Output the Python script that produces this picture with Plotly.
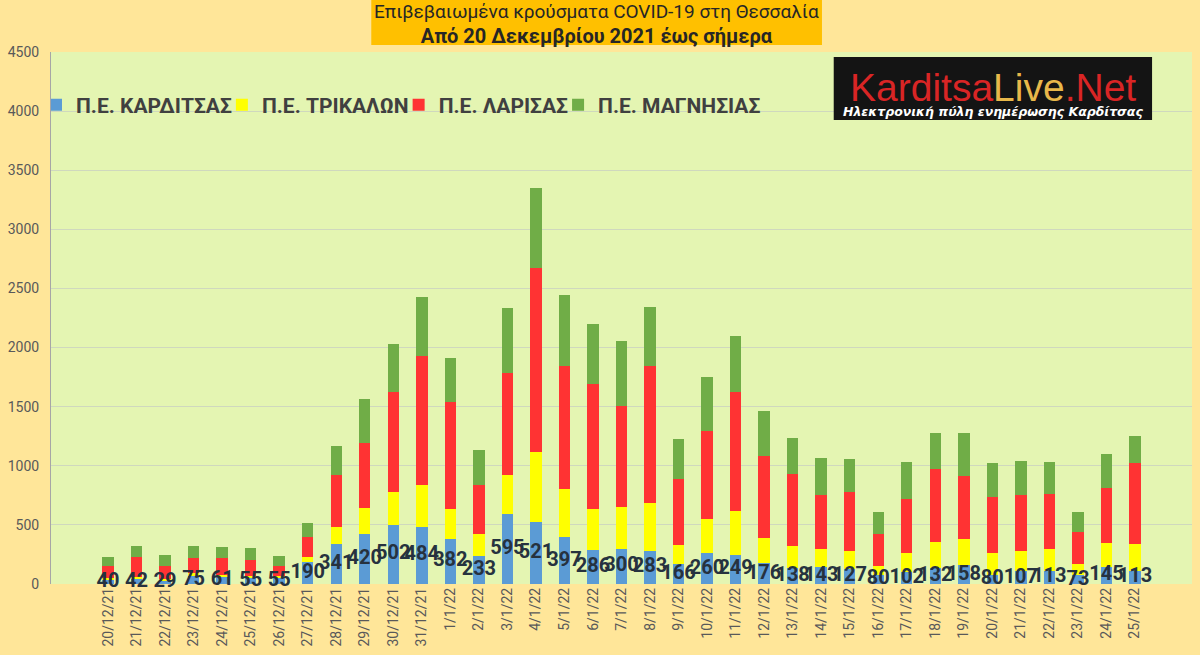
import plotly.graph_objects as go

# dates (x categories)
dates = ["20/12/21", "21/12/21", "22/12/21", "23/12/21", "24/12/21", "25/12/21", "26/12/21",
         "27/12/21", "28/12/21", "29/12/21", "30/12/21", "31/12/21",
         "1/1/22", "2/1/22", "3/1/22", "4/1/22", "5/1/22", "6/1/22", "7/1/22", "8/1/22",
         "9/1/22", "10/1/22", "11/1/22", "12/1/22", "13/1/22", "14/1/22", "15/1/22",
         "16/1/22", "17/1/22", "18/1/22", "19/1/22", "20/1/22", "21/1/22", "22/1/22",
         "23/1/22", "24/1/22", "25/1/22"]

# cases per regional unit
karditsa = [40, 42, 29, 75, 61, 55, 55, 190, 341, 420, 502, 484, 382, 233, 595, 521, 397,
            286, 300, 283, 166, 260, 249, 176, 138, 143, 127, 80, 102, 132, 158, 80, 107,
            113, 73, 145, 113]
trikala = [12, 20, 10, 15, 15, 15, 10, 42, 144, 226, 274, 354, 253, 187, 328, 594, 404,
           346, 355, 406, 164, 290, 372, 216, 184, 153, 152, 72, 163, 226, 220, 185, 172,
           186, 93, 205, 228]
larisa = [98, 166, 111, 128, 142, 130, 86, 163, 438, 545, 847, 1092, 903, 418, 866, 1557,
          1039, 1061, 852, 1151, 559, 748, 1002, 692, 606, 457, 503, 271, 452, 613, 539,
          469, 472, 460, 271, 460, 681]
magnisia = [78, 93, 94, 103, 96, 104, 84, 119, 245, 378, 409, 494, 370, 296, 545, 678, 601,
            505, 550, 505, 339, 452, 477, 381, 311, 311, 273, 187, 313, 310, 364, 288, 287,
            271, 173, 291, 234]

series = [
    ("Π.Ε. ΚΑΡΔΙΤΣΑΣ", karditsa, "#5B9BD5"),
    ("Π.Ε. ΤΡΙΚΑΛΩΝ", trikala, "#FFFF00"),
    ("Π.Ε. ΛΑΡΙΣΑΣ", larisa, "#FF3333"),
    ("Π.Ε. ΜΑΓΝΗΣΙΑΣ", magnisia, "#70AD47"),
]

fig = go.Figure()
for name, vals, col in series:
    fig.add_trace(go.Bar(x=dates, y=vals, name=name, marker_color=col, marker_line_width=0))

# Karditsa value labels, centred in the blue segment
fig.add_trace(go.Scatter(
    x=dates, y=[v / 2 for v in karditsa], mode="text",
    text=[str(v) for v in karditsa],
    textfont=dict(family="Roboto", size=20, color="#26323F", weight="bold"),
    showlegend=False, hoverinfo="skip", cliponaxis=False,
))

# title box
fig.add_shape(type="rect", xref="paper", yref="paper", x0=0.2807, x1=0.6757, y0=1.013, y1=1.1,
              fillcolor="#FFC000", line_width=0, layer="above")
fig.add_annotation(text='Επιβεβαιωμένα κρούσματα COVID-19 στη Θεσσαλία<br>'
                        '<span style="font-size:20px"><b>Από 20 Δεκεμβρίου 2021 έως σήμερα</b></span>',
                   xref="paper", yref="paper", x=0.4782, y=1.052, xanchor="center", yanchor="middle",
                   showarrow=False, font=dict(family="Roboto", size=19, color="#262626"), align="center")

# logo box
fig.add_shape(type="rect", xref="paper", yref="paper", x0=0.686, x1=0.965, y0=0.872, y1=0.9906,
              fillcolor="#141414", line_width=0, layer="above")
fig.add_annotation(text='<span style="color:#D92525">Karditsa</span><span style="color:#E8B84A">Live</span><span style="color:#D92525">.Net</span>',
                   xref="paper", yref="paper", x=0.8255, y=0.934, xanchor="center", yanchor="middle",
                   showarrow=False, font=dict(family="Liberation Sans", size=39))
fig.add_annotation(text="<b><i>Ηλεκτρονική πύλη ενημέρωσης Καρδίτσας</i></b>",
                   xref="paper", yref="paper", x=0.8255, y=0.889, xanchor="center", yanchor="middle",
                   showarrow=False, font=dict(family="DejaVu Sans", size=12.5, color="#FFFFFF"))

fig.update_layout(
    width=1200, height=655,
    barmode="stack", bargap=0.6,
    paper_bgcolor="#FFE699", plot_bgcolor="#E4F5B2",
    margin=dict(l=45, r=8, t=52, b=71),
    legend=dict(orientation="h", x=0, y=0.9, xanchor="left", yanchor="middle",
                traceorder="normal", indentation=-15, bgcolor="rgba(0,0,0,0)",
                font=dict(family="Roboto", size=21, color="#404040", weight="bold")),
    yaxis=dict(range=[0, 4500], dtick=500, showgrid=True, gridcolor="#CFD8BE", gridwidth=1,
               showline=True, linecolor="#A6A6A6", zeroline=False, ticks="", ticklabelstandoff=8,
               tickfont=dict(family="Roboto", size=14, color="#595959")),
    xaxis=dict(type="category", tickangle=-90, showline=False, ticks="",
               tickfont=dict(family="Roboto", size=14, color="#595959")),
    showlegend=True,
)

fig.write_html("out.html", config={"displayModeBar": False},
               post_script="document.body.style.margin='0';")
